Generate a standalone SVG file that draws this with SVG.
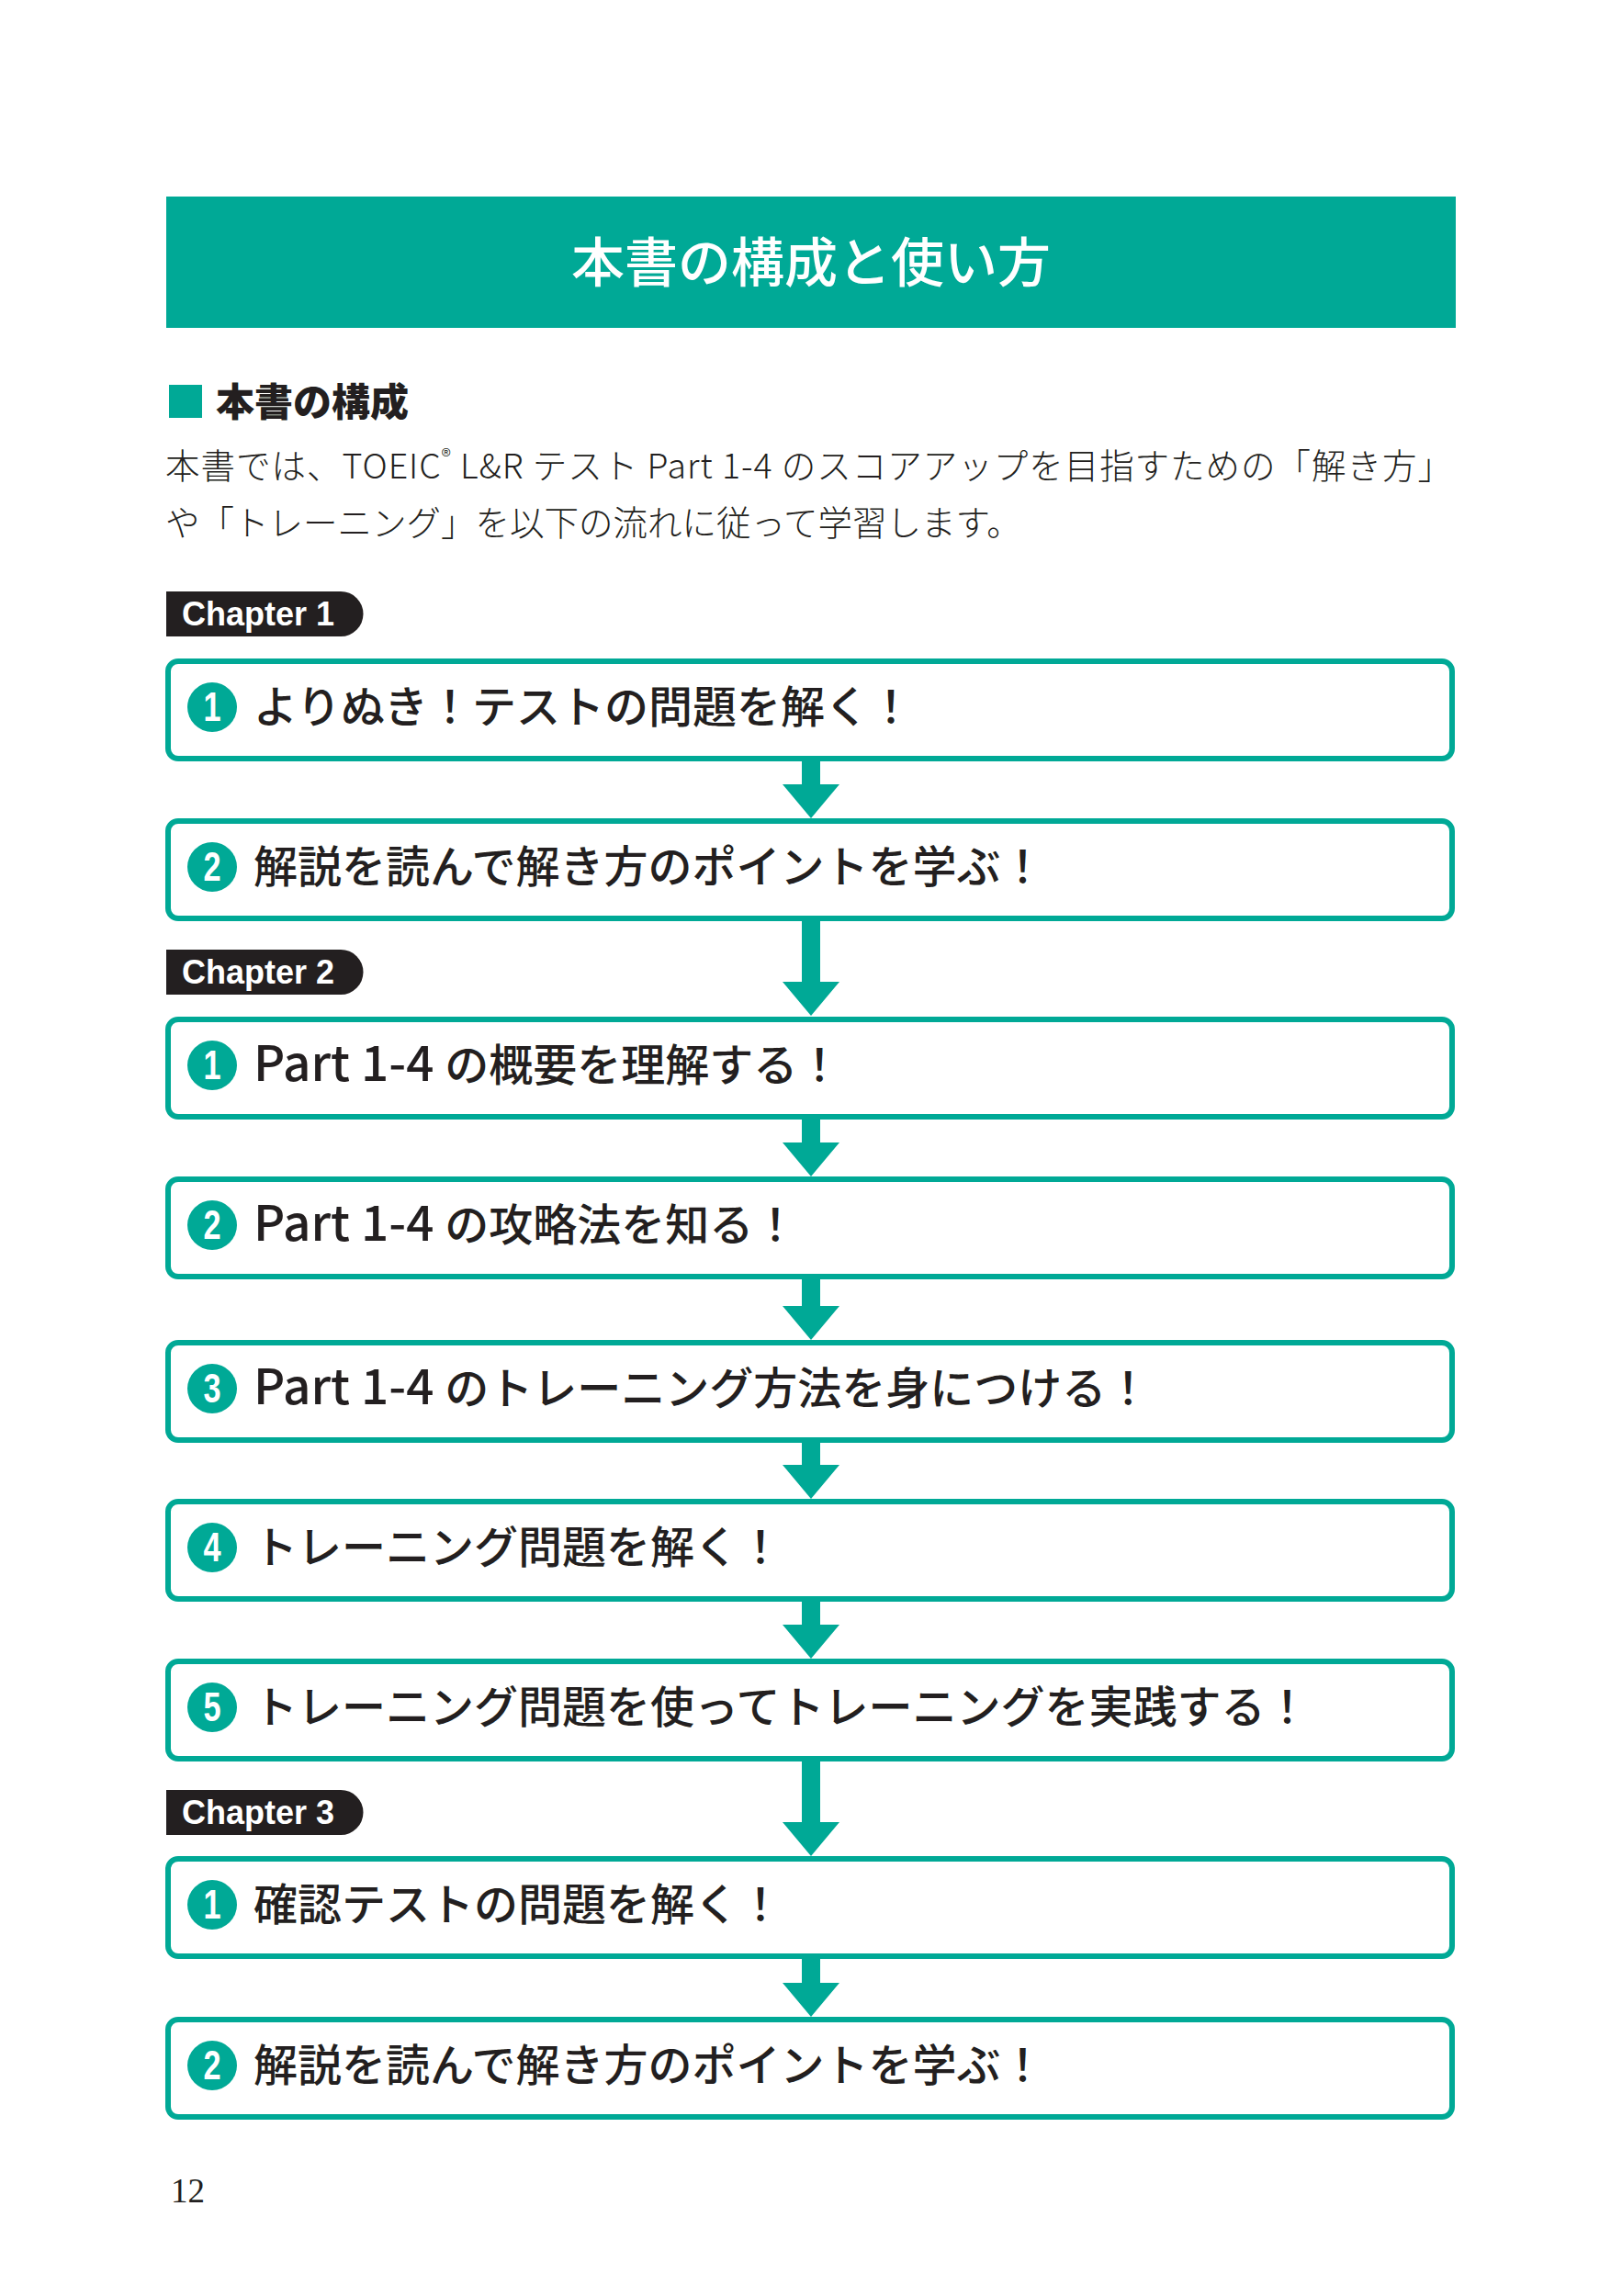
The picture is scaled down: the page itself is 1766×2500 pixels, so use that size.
<svg xmlns="http://www.w3.org/2000/svg" width="1766" height="2500" viewBox="0 0 1766 2500">
<style>
.jp{font-family:"Noto Sans CJK JP","Noto Sans CJK SC",sans-serif;fill:#231f20}
.box{fill:#ffffff;stroke:#00a996;stroke-width:6}
.num{fill:#00a996}
.numt{font-family:"Liberation Sans",Arial,sans-serif;font-weight:bold;font-size:44px;fill:#ffffff;text-anchor:middle}
.step{font-size:48px;font-weight:500}
.lat{font-size:53px}
.chap{fill:#231f20}
.chapt{font-family:"Liberation Sans",Arial,sans-serif;font-weight:bold;font-size:36px;fill:#ffffff}
.arrow{fill:#00a996}
</style>
<rect width="1766" height="2500" fill="#ffffff"/>

<g id="header">
<rect x="181" y="214" width="1404" height="143" fill="#00a996"/>
<text class="jp" x="883" y="307" font-size="58" font-weight="500" text-anchor="middle" style="fill:#ffffff">本書の構成と使い方</text>
</g>

<g id="intro">
<rect x="184" y="419" width="36" height="36" fill="#00a996"/>
<text class="jp" x="235" y="453" font-size="42" font-weight="900">本書の構成</text>
<text class="jp" x="180" y="521" font-size="37.5" font-weight="300" textLength="1401" lengthAdjust="spacing">本書では、TOEIC<tspan font-size="22" dy="-16">®</tspan><tspan dy="16"> L&amp;R テスト Part 1-4 のスコアアップを目指すための「解き方」</tspan></text>
<text class="jp" x="180" y="583" font-size="37.5" font-weight="300">や「トレーニング」を以下の流れに従って学習します。</text>
</g>

<g id="connectors">
<polygon class="arrow" points="873,827 893,827 893,854 914,854 883,891 852,854 873,854"/>
<polygon class="arrow" points="873,1001 893,1001 893,1069 914,1069 883,1106 852,1069 873,1069"/>
<polygon class="arrow" points="873,1217 893,1217 893,1244 914,1244 883,1281 852,1244 873,1244"/>
<polygon class="arrow" points="873,1391 893,1391 893,1422 914,1422 883,1459 852,1422 873,1422"/>
<polygon class="arrow" points="873,1569 893,1569 893,1595 914,1595 883,1632 852,1595 873,1595"/>
<polygon class="arrow" points="873,1742 893,1742 893,1769 914,1769 883,1806 852,1769 873,1769"/>
<polygon class="arrow" points="873,1915 893,1915 893,1984 914,1984 883,2021 852,1984 873,1984"/>
<polygon class="arrow" points="873,2131 893,2131 893,2159 914,2159 883,2196 852,2159 873,2159"/>
</g>

<g id="chapter1">
<path class="chap" d="M181 644 H371 A24.5 24.5 0 0 1 371 693 H181 Z"/>
<text class="chapt" x="198" y="681">Chapter 1</text>
</g>

<g id="c1-step1">
<rect class="box" x="183" y="720" width="1398" height="106" rx="11"/>
<circle class="num" cx="231" cy="770" r="27"/>
<text class="numt" transform="translate(231 785) scale(0.78 1)">1</text>
<text class="jp step" x="276" y="787">よりぬき！テストの問題を解く！</text>
</g>

<g id="c1-step2">
<rect class="box" x="183" y="894" width="1398" height="106" rx="11"/>
<circle class="num" cx="231" cy="944" r="27"/>
<text class="numt" transform="translate(231 959) scale(0.78 1)">2</text>
<text class="jp step" x="276" y="961">解説を読んで解き方のポイントを学ぶ！</text>
</g>

<g id="chapter2">
<path class="chap" d="M181 1034 H371 A24.5 24.5 0 0 1 371 1083 H181 Z"/>
<text class="chapt" x="198" y="1071">Chapter 2</text>
</g>

<g id="c2-step1">
<rect class="box" x="183" y="1110" width="1398" height="106" rx="11"/>
<circle class="num" cx="231" cy="1160" r="27"/>
<text class="numt" transform="translate(231 1175) scale(0.78 1)">1</text>
<text class="jp step" x="276" y="1177"><tspan class="lat">Part 1-4 </tspan>の概要を理解する！</text>
</g>

<g id="c2-step2">
<rect class="box" x="183" y="1284" width="1398" height="106" rx="11"/>
<circle class="num" cx="231" cy="1334" r="27"/>
<text class="numt" transform="translate(231 1349) scale(0.78 1)">2</text>
<text class="jp step" x="276" y="1351"><tspan class="lat">Part 1-4 </tspan>の攻略法を知る！</text>
</g>

<g id="c2-step3">
<rect class="box" x="183" y="1462" width="1398" height="106" rx="11"/>
<circle class="num" cx="231" cy="1512" r="27"/>
<text class="numt" transform="translate(231 1527) scale(0.78 1)">3</text>
<text class="jp step" x="276" y="1529"><tspan class="lat">Part 1-4 </tspan>のトレーニング方法を身につける！</text>
</g>

<g id="c2-step4">
<rect class="box" x="183" y="1635" width="1398" height="106" rx="11"/>
<circle class="num" cx="231" cy="1685" r="27"/>
<text class="numt" transform="translate(231 1700) scale(0.78 1)">4</text>
<text class="jp step" x="276" y="1702">トレーニング問題を解く！</text>
</g>

<g id="c2-step5">
<rect class="box" x="183" y="1809" width="1398" height="106" rx="11"/>
<circle class="num" cx="231" cy="1859" r="27"/>
<text class="numt" transform="translate(231 1874) scale(0.78 1)">5</text>
<text class="jp step" x="276" y="1876">トレーニング問題を使ってトレーニングを実践する！</text>
</g>

<g id="chapter3">
<path class="chap" d="M181 1949 H371 A24.5 24.5 0 0 1 371 1998 H181 Z"/>
<text class="chapt" x="198" y="1986">Chapter 3</text>
</g>

<g id="c3-step1">
<rect class="box" x="183" y="2024" width="1398" height="106" rx="11"/>
<circle class="num" cx="231" cy="2074" r="27"/>
<text class="numt" transform="translate(231 2089) scale(0.78 1)">1</text>
<text class="jp step" x="276" y="2091">確認テストの問題を解く！</text>
</g>

<g id="c3-step2">
<rect class="box" x="183" y="2199" width="1398" height="106" rx="11"/>
<circle class="num" cx="231" cy="2249" r="27"/>
<text class="numt" transform="translate(231 2264) scale(0.78 1)">2</text>
<text class="jp step" x="276" y="2266">解説を読んで解き方のポイントを学ぶ！</text>
</g>

<g id="page-number">
<text x="186" y="2398" font-family="Liberation Serif,'Times New Roman',serif" font-size="37" fill="#231f20">12</text>
</g>
</svg>
